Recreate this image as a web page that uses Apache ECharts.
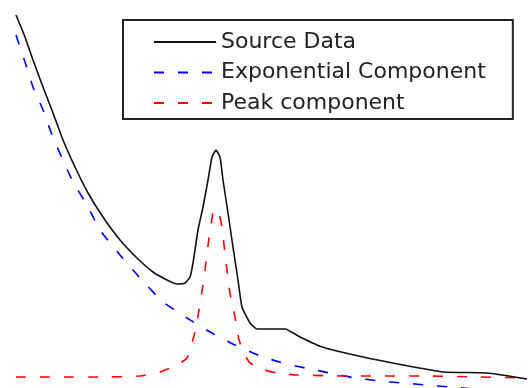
<!DOCTYPE html>
<html>
<head>
<meta charset="utf-8">
<script src="https://cdn.jsdelivr.net/npm/echarts@6/dist/echarts.min.js"></script>
<style>html,body{margin:0;padding:0;background:#fff}#c{width:528px;height:388px}</style>
</head>
<body>
<div id="c"></div>
<script>
// Values (x: horizontal position units, y: signal height units)
const sourceX = [16,25,33,43,53,63,75,88,103,120,137,153,167,177,185,190,193,198,203,208,212,216,220,223,228,233,238,242,250,257,285,300,322,363,403,443,487,527];
const sourceY = [373,351,328,301,275,248,221,195,171,148,130,116,108,104,105,111,125,158,181,208,231,238,231,208,175,141,108,81,65,59,59,51,41,31,23,16,15,9];

const expX = [16,25,33,43,52,62,73,87,100,120,140,163,187,210,235,260,283,305,330,355,380,403,427,450,475,500,528];
const expY = [353,326,301,278,253,230,206,183,158,133,110,86,70,56,43,32,25,20,15,10,7,5,3,1,-1,-2,-3];

const peakX = [16,60,100,140,160,175,187,195,199,203,206,209,213,216,219,221,224,227,230,235,239,245,250,265,277,297,350,420,480,528];
const peakY = [11,11,11,12,16,22,30,56,78,103,126,150,175,179,174,166,143,118,95,71,48,33,25,18,15,13,12,12,11,10];

const seriesNames = ['Source Data', 'Exponential Component', 'Peak component'];

function pairs(xs, ys){ return xs.map((x,i)=>[x, ys[i]]); }

const chart = echarts.init(document.getElementById('c'), null, {renderer:'canvas'});
chart.setOption({
  animation:false,
  backgroundColor:'#fff',
  grid:{left:0,right:0,top:0,bottom:0},
  xAxis:{type:'value',min:0,max:528,show:false},
  yAxis:{type:'value',min:0,max:388,show:false},
  legend:{
    orient:'vertical',
    left:123, top:20,
    padding:[11,27,5,30],
    itemWidth:62, itemHeight:22, itemGap:8.5,
    borderColor:'#222', borderWidth:2, borderRadius:0,
    backgroundColor:'#fff',
    itemStyle:{opacity:0},
    textStyle:{fontFamily:'DejaVu Sans', fontSize:22, lineHeight:22, color:'#222'},
    data:seriesNames
  },
  series:[
    {name:seriesNames[0],type:'line',symbol:'none',smooth:0.15,data:pairs(sourceX,sourceY),
     lineStyle:{color:'#111',width:1.6,type:'solid'},itemStyle:{color:'#111'},z:3},
    {name:seriesNames[1],type:'line',symbol:'none',smooth:0.15,data:pairs(expX,expY),
     lineStyle:{color:'#0000ff',width:1.6,type:[10,14]},itemStyle:{color:'#0000ff'},z:2},
    {name:seriesNames[2],type:'line',symbol:'none',smooth:0.15,data:pairs(peakX,peakY),
     lineStyle:{color:'#ff0000',width:1.6,type:[10,14]},itemStyle:{color:'#ff0000'},z:2}
  ]
});
</script>
</body>
</html>
